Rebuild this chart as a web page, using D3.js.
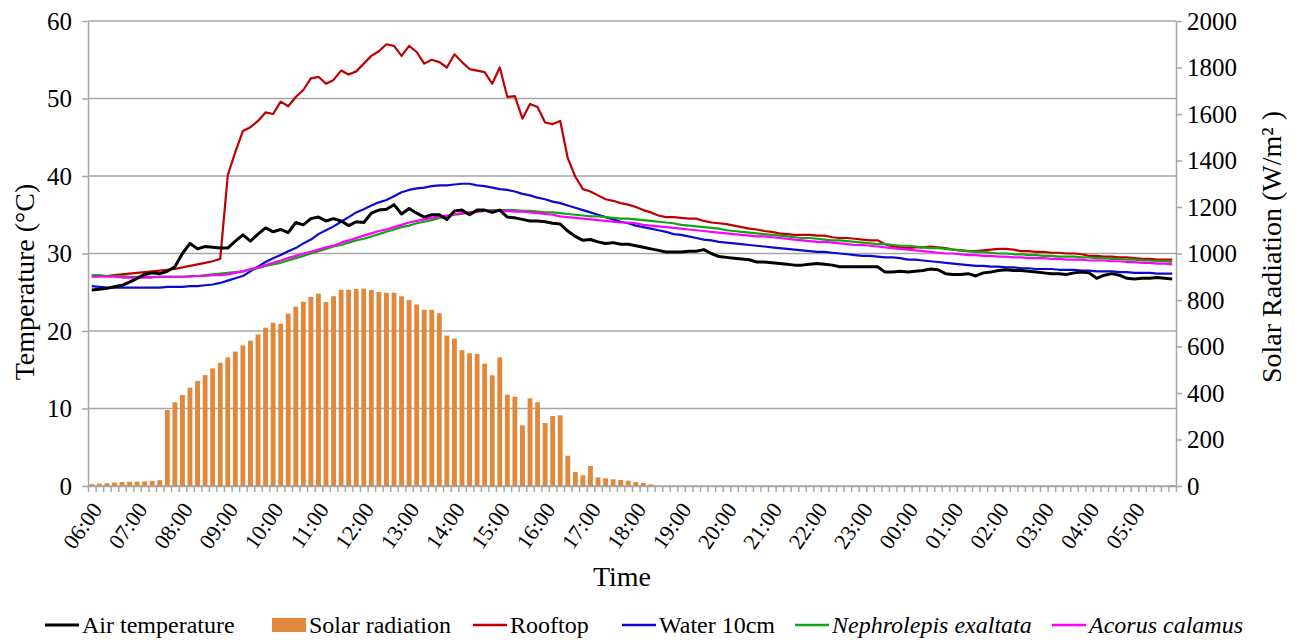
<!DOCTYPE html>
<html>
<head>
<meta charset="utf-8">
<script src="https://cdn.jsdelivr.net/npm/d3@7"></script>
<style>
  body { margin: 0; background: #fff; }
  svg { display: block; }
</style>
</head>
<body>
<div id="chart"></div>
<script>
// 10-minute readings from 06:00 to 05:50 next day
const times = d3.range(144).map(i => {
    const m = 360 + i * 10;
    return d3.format("02")(Math.floor(m / 60) % 24) + ":" + d3.format("02")(m % 60);
});

const hourLabels = ["06:00", "07:00", "08:00", "09:00", "10:00", "11:00", "12:00", "13:00",
    "14:00", "15:00", "16:00", "17:00", "18:00", "19:00", "20:00", "21:00", "22:00", "23:00",
    "00:00", "01:00", "02:00", "03:00", "04:00", "05:00"];

const tempTicks = [0, 10, 20, 30, 40, 50, 60];
const radTicks = [0, 200, 400, 600, 800, 1000, 1200, 1400, 1600, 1800, 2000];

// Air temperature (°C)
const airTemp = [
    25.3, 25.4, 25.5, 25.7, 25.9, 26.3, 26.8, 27.3, 27.5, 27.4, 27.7, 28.3,
    30.0, 31.3, 30.6, 30.9, 30.8, 30.7, 30.7, 31.6, 32.4, 31.6, 32.5, 33.3,
    32.8, 33.1, 32.7, 34.0, 33.7, 34.5, 34.7, 34.2, 34.5, 34.2, 33.6, 34.1,
    34.0, 35.2, 35.6, 35.7, 36.3, 35.1, 35.8, 35.2, 34.7, 35.0, 35.0, 34.4,
    35.5, 35.6, 35.0, 35.6, 35.6, 35.3, 35.6, 34.7, 34.6, 34.4, 34.2, 34.2,
    34.1, 33.9, 33.8, 32.9, 32.2, 31.7, 31.8, 31.5, 31.3, 31.4, 31.2, 31.2,
    31.0, 30.8, 30.6, 30.4, 30.2, 30.2, 30.2, 30.3, 30.3, 30.5, 30.0, 29.6,
    29.5, 29.4, 29.3, 29.2, 28.9, 28.9, 28.8, 28.7, 28.6, 28.5, 28.5, 28.6,
    28.7, 28.6, 28.5, 28.3, 28.3, 28.3, 28.3, 28.3, 28.3, 27.6, 27.6, 27.7,
    27.6, 27.7, 27.8, 28.0, 27.9, 27.4, 27.3, 27.3, 27.4, 27.1, 27.5, 27.6,
    27.8, 27.9, 27.8, 27.8, 27.7, 27.6, 27.5, 27.4, 27.4, 27.3, 27.5, 27.6,
    27.5, 26.8, 27.2, 27.4, 27.2, 26.8, 26.7, 26.8, 26.8, 26.9, 26.8, 26.7
];

// Solar radiation (W/m²)
const solarRad = [
    8, 10, 12, 15, 17, 18, 19, 20, 22, 25, 327, 360,
    391, 423, 452, 477, 506, 530, 553, 578, 605, 625, 652, 681,
    702, 698, 741, 771, 793, 813, 827, 791, 816, 844, 844, 847,
    849, 843, 834, 831, 831, 816, 800, 781, 758, 758, 743, 647,
    634, 584, 571, 568, 526, 476, 553, 393, 384, 261, 377, 360,
    271, 301, 304, 130, 60, 46, 86, 37, 33, 29, 26, 23,
    17, 13, 7, 0, 0, 0, 0, 0, 0, 0, 0, 0,
    0, 0, 0, 0, 0, 0, 0, 0, 0, 0, 0, 0,
    0, 0, 0, 0, 0, 0, 0, 0, 0, 0, 0, 0,
    0, 0, 0, 0, 0, 0, 0, 0, 0, 0, 0, 0,
    0, 0, 0, 0, 0, 0, 0, 0, 0, 0, 0, 0,
    0, 0, 0, 0, 0, 0, 0, 0, 0, 0, 0, 3
];

// Rooftop (°C)
const rooftop = [
    27.1, 27.1, 27.1, 27.2, 27.3, 27.4, 27.5, 27.6, 27.7, 27.8, 27.9, 28.0,
    28.2, 28.4, 28.6, 28.8, 29.0, 29.3, 40.1, 43.1, 45.8, 46.3, 47.1, 48.2,
    48.0, 49.6, 49.0, 50.2, 51.1, 52.6, 52.8, 51.9, 52.4, 53.6, 53.1, 53.5,
    54.5, 55.5, 56.1, 57.0, 56.8, 55.5, 56.8, 56.0, 54.5, 55.0, 54.7, 54.0,
    55.7, 54.7, 53.8, 53.6, 53.4, 51.9, 54.0, 50.2, 50.3, 47.4, 49.3, 48.9,
    46.9, 46.7, 47.1, 42.3, 39.9, 38.3, 38.0, 37.5, 37.0, 36.8, 36.5, 36.3,
    36.0, 35.6, 35.3, 34.9, 34.7, 34.7, 34.6, 34.5, 34.5, 34.2, 34.0, 33.9,
    33.8, 33.6, 33.4, 33.2, 33.1, 32.9, 32.8, 32.6, 32.5, 32.4, 32.4, 32.4,
    32.3, 32.3, 32.1, 32.0, 32.0, 31.9, 31.8, 31.7, 31.7, 31.2, 30.9, 30.8,
    30.7, 30.8, 30.8, 30.9, 30.8, 30.7, 30.5, 30.4, 30.3, 30.3, 30.4, 30.5,
    30.6, 30.6, 30.5, 30.3, 30.3, 30.2, 30.2, 30.1, 30.1, 30.0, 30.0, 29.9,
    29.7, 29.7, 29.6, 29.6, 29.5, 29.5, 29.4, 29.3, 29.3, 29.2, 29.2, 29.2
];

// Water 10cm (°C)
const water10 = [
    25.8, 25.7, 25.6, 25.6, 25.6, 25.6, 25.6, 25.6, 25.6, 25.6, 25.7, 25.7,
    25.7, 25.8, 25.8, 25.9, 26.0, 26.2, 26.5, 26.8, 27.1, 27.7, 28.3, 28.9,
    29.4, 29.8, 30.3, 30.7, 31.3, 31.8, 32.5, 33.0, 33.5, 34.1, 34.7, 35.3,
    35.7, 36.2, 36.6, 36.9, 37.4, 37.9, 38.2, 38.4, 38.5, 38.7, 38.8, 38.8,
    38.9, 39.0, 39.0, 38.8, 38.7, 38.5, 38.3, 38.2, 38.0, 37.7, 37.5, 37.2,
    37.0, 36.7, 36.5, 36.2, 35.9, 35.6, 35.3, 35.0, 34.7, 34.4, 34.1, 33.9,
    33.6, 33.4, 33.2, 33.0, 32.8, 32.5, 32.4, 32.2, 32.0, 31.8, 31.7, 31.5,
    31.4, 31.3, 31.2, 31.1, 31.0, 30.9, 30.8, 30.7, 30.6, 30.5, 30.4, 30.3,
    30.2, 30.2, 30.1, 30.0, 29.9, 29.8, 29.7, 29.7, 29.6, 29.5, 29.5, 29.4,
    29.2, 29.2, 29.1, 29.0, 28.9, 28.8, 28.7, 28.6, 28.5, 28.4, 28.4, 28.3,
    28.3, 28.2, 28.2, 28.1, 28.1, 28.0, 28.0, 28.0, 27.9, 27.9, 27.9, 27.8,
    27.8, 27.7, 27.7, 27.7, 27.6, 27.6, 27.5, 27.5, 27.5, 27.4, 27.4, 27.4
];

// Nephrolepis exaltata (°C)
const nephrolepis = [
    27.2, 27.2, 27.1, 27.1, 27.1, 27.0, 27.0, 27.0, 27.0, 27.0, 27.0, 27.0,
    27.0, 27.1, 27.1, 27.2, 27.3, 27.4, 27.5, 27.6, 27.7, 27.9, 28.1, 28.4,
    28.6, 28.8, 29.1, 29.4, 29.7, 30.0, 30.3, 30.6, 30.9, 31.1, 31.4, 31.7,
    31.9, 32.2, 32.5, 32.8, 33.1, 33.4, 33.6, 33.9, 34.1, 34.3, 34.6, 34.8,
    35.0, 35.1, 35.3, 35.4, 35.5, 35.6, 35.6, 35.6, 35.6, 35.5, 35.5, 35.4,
    35.3, 35.3, 35.2, 35.1, 35.0, 34.9, 34.8, 34.8, 34.7, 34.6, 34.5, 34.5,
    34.4, 34.3, 34.2, 34.1, 34.0, 33.9, 33.7, 33.6, 33.5, 33.4, 33.3, 33.2,
    33.0, 32.9, 32.8, 32.7, 32.6, 32.5, 32.4, 32.3, 32.2, 32.1, 32.0, 32.0,
    31.9, 31.8, 31.7, 31.7, 31.6, 31.5, 31.4, 31.3, 31.2, 31.2, 31.1, 31.0,
    31.0, 30.9, 30.8, 30.7, 30.7, 30.6, 30.5, 30.4, 30.3, 30.2, 30.2, 30.1,
    30.0, 30.0, 29.9, 29.9, 29.8, 29.8, 29.7, 29.7, 29.6, 29.6, 29.6, 29.5,
    29.5, 29.4, 29.4, 29.3, 29.3, 29.2, 29.2, 29.1, 29.1, 29.0, 29.0, 28.9
];

// Acorus calamus (°C)
const acorus = [
    27.0, 27.0, 27.0, 27.0, 26.9, 26.9, 26.9, 26.9, 26.9, 27.0, 27.0, 27.0,
    27.0, 27.0, 27.1, 27.1, 27.2, 27.2, 27.3, 27.5, 27.7, 28.0, 28.2, 28.5,
    28.8, 29.1, 29.4, 29.7, 30.0, 30.2, 30.5, 30.8, 31.0, 31.4, 31.7, 32.0,
    32.3, 32.6, 32.9, 33.1, 33.4, 33.7, 34.0, 34.2, 34.4, 34.6, 34.8, 34.9,
    35.1, 35.2, 35.3, 35.4, 35.5, 35.5, 35.5, 35.5, 35.4, 35.4, 35.3, 35.2,
    35.1, 35.0, 34.8, 34.7, 34.6, 34.5, 34.4, 34.3, 34.2, 34.1, 34.0, 34.0,
    33.9, 33.7, 33.6, 33.5, 33.4, 33.3, 33.2, 33.1, 33.0, 32.9, 32.8, 32.7,
    32.6, 32.5, 32.4, 32.3, 32.2, 32.2, 32.1, 32.0, 31.9, 31.8, 31.7, 31.6,
    31.5, 31.5, 31.4, 31.3, 31.2, 31.1, 31.1, 31.0, 30.9, 30.8, 30.7, 30.6,
    30.5, 30.4, 30.3, 30.2, 30.1, 30.0, 30.0, 29.9, 29.8, 29.8, 29.7, 29.7,
    29.6, 29.6, 29.5, 29.5, 29.4, 29.4, 29.4, 29.3, 29.3, 29.2, 29.2, 29.2,
    29.1, 29.1, 29.1, 29.0, 29.0, 28.9, 28.9, 28.8, 28.8, 28.7, 28.7, 28.6
];

// Layout
const width = 1295, height = 640;
const plot = { left: 88, right: 1176, top: 21, bottom: 486 };
const gridColor = "#a6a6a6";
const serif = "'Liberation Serif', 'Times New Roman', serif";

const svg = d3.select("#chart")
    .append("svg")
    .attr("width", width)
    .attr("height", height)
    .style("font-family", serif);

const x = d3.scaleBand()
    .domain(times)
    .range([plot.left, plot.right])
    .paddingInner(0.36)
    .paddingOuter(0.18);
const cx = t => x(t) + x.bandwidth() / 2;

const yT = d3.scaleLinear().domain([0, 60]).range([plot.bottom, plot.top]);
const yR = d3.scaleLinear().domain([0, 2000]).range([plot.bottom, plot.top]);

// Gridlines
svg.append("g")
    .selectAll("line")
    .data(tempTicks)
    .join("line")
    .attr("x1", plot.left)
    .attr("x2", plot.right)
    .attr("y1", d => yT(d))
    .attr("y2", d => yT(d))
    .attr("stroke", gridColor)
    .attr("stroke-width", 1.5);

// Solar radiation bars
svg.append("g")
    .selectAll("rect")
    .data(times.map((t, i) => ({ t, v: solarRad[i] })))
    .join("rect")
    .attr("x", d => x(d.t))
    .attr("width", x.bandwidth())
    .attr("y", d => yR(d.v))
    .attr("height", d => yR(0) - yR(d.v))
    .attr("fill", "#e0883c");

// Temperature lines
const series = [
    { name: "Rooftop", values: rooftop, color: "#c00000", width: 2.2 },
    { name: "Water 10cm", values: water10, color: "#0a0ad2", width: 2.2 },
    { name: "Nephrolepis exaltata", values: nephrolepis, color: "#12a512", width: 2.2 },
    { name: "Acorus calamus", values: acorus, color: "#ff00ff", width: 2.2 },
    { name: "Air temperature", values: airTemp, color: "#000000", width: 3 }
];

const line = d3.line()
    .x((d, i) => cx(times[i]))
    .y(d => yT(d));

svg.append("g")
    .selectAll("path")
    .data(series)
    .join("path")
    .attr("d", d => line(d.values))
    .attr("fill", "none")
    .attr("stroke", d => d.color)
    .attr("stroke-width", d => d.width)
    .attr("stroke-linejoin", "round");

// Axes
const styleAxis = g => {
    g.attr("font-family", null).attr("font-size", null);
    g.selectAll(".domain").attr("stroke", gridColor).attr("stroke-width", 1.5);
    g.selectAll(".tick line").attr("stroke", gridColor).attr("stroke-width", 1.5);
    g.selectAll("text")
        .style("font-family", serif)
        .style("font-size", "25px")
        .attr("fill", "#000");
};

svg.append("g")
    .attr("transform", `translate(${plot.left},0)`)
    .call(d3.axisLeft(yT).tickValues(tempTicks).tickSize(6).tickSizeOuter(0).tickPadding(10))
    .call(styleAxis);

svg.append("g")
    .attr("transform", `translate(${plot.right},0)`)
    .call(d3.axisRight(yR).tickValues(radTicks).tickSize(6).tickSizeOuter(0).tickPadding(5)
        .tickFormat(d3.format("d")))
    .call(styleAxis);

// Category boundary ticks on the time axis
const edge = d3.scaleLinear().domain([0, times.length]).range([plot.left, plot.right]);
svg.append("g")
    .attr("transform", `translate(0,${plot.bottom})`)
    .call(d3.axisBottom(edge).tickValues(d3.range(times.length + 1)).tickSize(6).tickSizeOuter(0).tickFormat(""))
    .call(styleAxis);

// Hour labels, rotated
svg.append("g")
    .selectAll("text")
    .data(hourLabels)
    .join("text")
    .attr("transform", d => `translate(${cx(d) + 5},${plot.bottom + 19}) rotate(-55)`)
    .attr("text-anchor", "end")
    .attr("dy", "0.35em")
    .style("font-family", serif)
    .style("font-size", "22px")
    .text(d => d);

// Axis titles
svg.append("text")
    .attr("transform", "translate(34,282) rotate(-90)")
    .attr("text-anchor", "middle")
    .style("font-family", serif)
    .style("font-size", "28px")
    .text("Temperature (°C)");

svg.append("text")
    .attr("transform", "translate(1281,247) rotate(-90)")
    .attr("text-anchor", "middle")
    .style("font-family", serif)
    .style("font-size", "28px")
    .text("Solar Radiation (W/m² )");

svg.append("text")
    .attr("x", 622)
    .attr("y", 586)
    .attr("text-anchor", "middle")
    .style("font-family", serif)
    .style("font-size", "28px")
    .text("Time");

// Legend
const legendItems = [
    { label: "Air temperature", color: "#000000", type: "line", italic: false, x: 45 },
    { label: "Solar radiation", color: "#e0883c", type: "rect", italic: false, x: 272 },
    { label: "Rooftop", color: "#c00000", type: "line", italic: false, x: 473 },
    { label: "Water 10cm", color: "#0a0ad2", type: "line", italic: false, x: 622 },
    { label: "Nephrolepis exaltata", color: "#12a512", type: "line", italic: true, x: 795 },
    { label: "Acorus calamus", color: "#ff00ff", type: "line", italic: true, x: 1052 }
];

const legend = svg.append("g").attr("transform", "translate(0,625)");
const item = legend.selectAll("g")
    .data(legendItems)
    .join("g")
    .attr("transform", d => `translate(${d.x},0)`);

item.filter(d => d.type === "line")
    .append("line")
    .attr("x1", 0).attr("x2", 34)
    .attr("stroke", d => d.color)
    .attr("stroke-width", d => d.color === "#000000" ? 3 : 2.5);

item.filter(d => d.type === "rect")
    .append("rect")
    .attr("x", 0).attr("y", -7)
    .attr("width", 34).attr("height", 14)
    .attr("fill", d => d.color);

item.append("text")
    .attr("x", 37)
    .attr("dy", "0.33em")
    .style("font-family", serif)
    .style("font-size", "24px")
    .style("font-style", d => d.italic ? "italic" : "normal")
    .text(d => d.label);
</script>
</body>
</html>
